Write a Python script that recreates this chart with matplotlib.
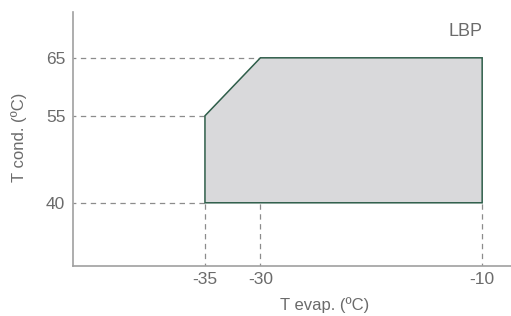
import matplotlib
matplotlib.use("Agg")
import matplotlib.pyplot as plt

plt.rcParams['font.family'] = ['Liberation Sans', 'DejaVu Sans']

# Envelope (evaporating temp, condensing temp)
evap = [-35, -35, -30, -10, -10]
cond = [40, 55, 65, 65, 40]
xticks = [-35, -30, -10]
yticks = [40, 55, 65]
label_text = "LBP"

XMIN, XMAX = -46.9, -7.4
YMIN, YMAX = 29.1, 72.9

fig = plt.figure(figsize=(5.11, 3.16), dpi=100)
ax = fig.add_axes([73/511, (316-266)/316, (511-73)/511, (266-12)/316])
ax.set_xlim(XMIN, XMAX)
ax.set_ylim(YMIN, YMAX)

grey_text = '#6b6b6b'
dash = '#8c8c8c'
ls = (2, (4.3, 3.6))

# dashed guide lines
base = min(cond)
for xv in xticks:
    ax.plot([xv, xv], [YMIN, base], ls=ls, color=dash, lw=0.9, zorder=1)
for yv in yticks:
    xl = min(e for e, c in zip(evap, cond) if c == yv)
    ax.plot([XMIN, xl], [yv, yv], ls=ls, color=dash, lw=0.9, zorder=1)

ax.fill(evap, cond, facecolor='#d9d9db', edgecolor='#2f5e4a', lw=1.1, zorder=2)

ax.set_xticks(xticks)
ax.set_xticklabels([str(v) for v in xticks])
ax.set_yticks(yticks)
ax.set_yticklabels([str(v) for v in yticks])
ax.tick_params(length=0, labelsize=12.5, colors=grey_text)
ax.tick_params(axis='x', pad=4.5)
ax.tick_params(axis='y', pad=5.5)

for s in ['top', 'right']:
    ax.spines[s].set_visible(False)
for s in ['left', 'bottom']:
    ax.spines[s].set_color('#a0a0a0')
    ax.spines[s].set_linewidth(1.2)

ax.text(-10, 69.6, label_text, ha='right', va='center', fontsize=13, color=grey_text)

fig.text(325/511, 1 - 305/316, "T evap. (ºC)", ha='center', va='center', fontsize=12, color=grey_text)
fig.text(19/511, 1 - 137/316, "T cond. (ºC)", ha='center', va='center', rotation=90, fontsize=12, color=grey_text)

fig.savefig("out.png", dpi=100)
